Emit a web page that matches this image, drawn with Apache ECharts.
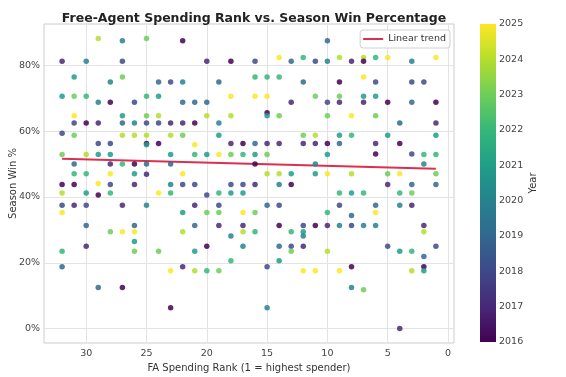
<!DOCTYPE html>
<html>
<head>
<meta charset="utf-8">
<script src="https://cdn.jsdelivr.net/npm/echarts@6/dist/echarts.min.js"></script>
<style>
  html, body { margin: 0; padding: 0; background: #fff; }
  #chart { width: 566px; height: 377px; }
</style>
</head>
<body>
<div id="chart"></div>
<script>
// FA spending rank (1 = highest spender), one entry per team-season
var rank = [
    32,32,32,32,32,32,32,32,32,32,
    31,31,31,31,31,31,31,31,31,
    30,30,30,30,30,30,30,30,30,
    29,29,29,29,29,29,29,29,
    28,28,28,28,28,28,28,28,28,
    27,27,27,27,27,27,27,27,27,27,
    26,26,26,26,26,26,26,26,26,26,
    25,25,25,25,25,25,25,25,25,25,
    24,24,24,24,24,24,24,
    23,23,23,23,23,23,23,23,23,
    22,22,22,22,22,22,22,22,22,22,
    21,21,21,21,21,21,21,21,21,
    20,20,20,20,20,20,20,20,
    19,19,19,19,19,19,19,19,19,
    18,18,18,18,18,18,18,18,18,
    17,17,17,17,17,17,17,17,
    16,16,16,16,16,16,16,16,16,
    15,15,15,15,15,15,15,15,15,15,
    14,14,14,14,14,14,14,14,14,14,
    13,13,13,13,13,13,13,
    12,12,12,12,12,12,12,12,12,
    11,11,11,11,11,11,11,11,
    10,10,10,10,10,10,10,10,10,10,
    9,9,9,9,9,9,9,9,9,9,
    8,8,8,8,8,8,8,8,8,
    7,7,7,7,7,7,7,7,
    6,6,6,6,6,6,6,6,6,
    5,5,5,5,5,5,
    4,4,4,4,4,4,4,
    3,3,3,3,3,3,3,3,3,
    2,2,2,2,2,2,2,2,
    1,1,1,1,1,1,1,1
];
var winPct = [
    81.3,70.6,59.4,52.9,43.8,41.2,37.5,35.3,23.5,18.8,
    76.5,70.6,64.7,62.5,58.8,50.0,47.1,43.8,37.5,
    81.3,70.6,62.5,52.9,47.1,41.2,37.5,31.3,25.0,
    88.2,68.8,62.5,56.3,52.9,44.1,40.6,12.5,
    75.0,68.8,56.3,52.9,50.0,47.1,43.8,41.2,29.4,
    87.5,81.3,76.5,64.7,62.5,58.8,50.0,37.5,29.4,12.5,
    68.8,62.5,58.8,50.0,47.1,43.8,31.3,29.4,26.5,23.5,
    88.2,70.6,64.7,62.5,58.8,56.3,55.9,50.0,46.9,37.5,
    75.0,70.6,64.7,62.5,56.3,41.2,23.5,
    75.0,62.5,58.8,52.9,50.0,43.8,41.2,17.6,6.3,
    87.5,75.0,68.8,62.5,58.8,47.1,43.8,35.3,29.4,18.8,
    68.8,62.5,55.9,52.9,43.8,37.5,31.3,23.5,17.6,
    81.3,68.8,64.7,52.9,40.6,35.3,25.0,17.6,
    75.0,62.5,58.8,52.9,41.2,37.5,35.3,31.3,17.6,
    81.3,70.6,64.7,56.3,52.9,43.8,41.2,28.1,20.6,
    56.3,52.9,43.8,41.2,35.3,31.3,29.4,25.0,
    81.3,76.5,70.6,56.3,52.9,50.0,43.8,35.3,29.4,
    76.5,70.6,65.6,64.7,56.3,52.9,47.1,37.5,18.8,6.3,
    82.4,76.5,64.7,56.3,47.1,43.8,37.5,31.3,25.0,20.6,
    81.3,68.8,47.1,43.8,29.4,25.0,23.5,
    82.4,75.0,58.8,56.3,31.3,29.4,28.1,25.0,17.6,
    81.3,70.6,58.8,56.3,50.0,47.1,31.3,17.6,
    87.5,81.3,68.8,64.7,56.3,52.9,47.1,35.3,31.3,23.5,
    82.4,75.0,70.6,68.8,58.8,56.3,41.2,37.5,31.3,17.6,
    81.3,64.7,58.8,47.1,41.2,34.4,31.3,18.8,12.5,
    82.4,81.3,76.5,70.6,68.8,41.2,31.3,11.8,
    82.4,75.0,70.6,64.7,56.3,53.1,37.5,35.3,31.3,
    82.4,68.8,58.8,47.1,43.8,25.0,
    62.5,56.3,47.1,41.2,37.5,23.5,0.0,
    81.3,75.0,68.8,53.1,43.8,41.2,37.5,23.5,17.6,
    75.0,52.9,50.0,31.3,29.4,21.9,18.8,17.6,
    82.4,68.8,62.5,58.8,52.9,47.1,43.8,25.0
];
var season = [
    2017,2021,2018,2023,2016,2024,2018,2025,2022,2019,
    2021,2023,2025,2018,2023,2019,2022,2016,2017,
    2020,2022,2016,2024,2022,2021,2018,2019,2017,
    2024,2020,2017,2018,2021,2025,2016,2019,
    2020,2016,2018,2021,2017,2025,2018,2022,2023,
    2020,2018,2023,2021,2019,2024,2022,2017,2025,2016,
    2018,2020,2024,2016,2021,2017,2019,2025,2021,2023,
    2023,2022,2023,2018,2024,2016,2021,2019,2017,2020,
    2019,2021,2024,2018,2016,2025,2023,
    2018,2017,2024,2021,2019,2020,2022,2025,2016,
    2016,2020,2019,2017,2023,2025,2018,2021,2024,2017,
    2019,2016,2025,2022,2018,2017,2019,2021,2024,
    2017,2019,2024,2021,2018,2023,2016,2022,
    2019,2020,2021,2025,2022,2018,2023,2017,2023,
    2016,2025,2024,2017,2023,2018,2021,2020,2022,
    2016,2022,2018,2021,2025,2017,2024,2020,
    2018,2022,2025,2019,2021,2016,2017,2023,2022,
    2022,2025,2016,2021,2017,2023,2024,2019,2018,2020,
    2025,2022,2023,2017,2024,2020,2018,2016,2019,2021,
    2019,2017,2021,2016,2022,2018,2023,
    2022,2019,2023,2017,2018,2021,2020,2017,2025,
    2018,2023,2024,2017,2020,2021,2016,2025,
    2019,2020,2018,2023,2016,2021,2025,2022,2017,2024,
    2024,2016,2023,2017,2021,2019,2022,2018,2020,2025,
    2017,2025,2022,2024,2021,2019,2018,2016,2020,
    2024,2016,2025,2021,2017,2022,2020,2023,
    2022,2018,2021,2023,2017,2016,2019,2025,2020,
    2025,2016,2021,2023,2017,2018,
    2019,2016,2025,2022,2020,2021,2017,
    2020,2018,2019,2018,2019,2023,2017,2022,2024,
    2018,2022,2020,2017,2024,2019,2016,2021,
    2025,2016,2017,2021,2022,2023,2019,2018
];
// linear trend end points
var trendRank = [32, 1];
var trendWin = [51.6, 48.6];

var xTicks = [0, 5, 10, 15, 20, 25, 30];
var yTicks = [0, 20, 40, 60, 80];
var years = [2016, 2025];

var viridis = ['#440154', '#482878', '#3e4989', '#31688e', '#26828e',
               '#1f9e89', '#35b779', '#6ece58', '#b5de2b', '#fde725'];

var points = [];
for (var i = 0; i < rank.length; i++) {
    points.push([rank[i], winPct[i], season[i]]);
}
var trend = [];
for (var j = 0; j < trendRank.length; j++) {
    trend.push([trendRank[j], trendWin[j]]);
}

var font = 'DejaVu Sans';
var gradStops = viridis.map(function (c, k) {
    return { offset: k / (viridis.length - 1), color: c };
});

var chart = echarts.init(document.getElementById('chart'), null, { renderer: 'canvas' });
var option = {
    animation: false,
    backgroundColor: '#fff',
    textStyle: { fontFamily: font },
    title: {
        text: 'Free-Agent Spending Rank vs. Season Win Percentage',
        left: 249, top: 7, textAlign: 'center',
        textStyle: { fontFamily: font, fontSize: 12.5, fontWeight: 'bold', color: '#222' }
    },
    legend: {
        data: [{ name: 'Linear trend', icon: 'rect' }],
        right: 116, top: 30,
        itemWidth: 20, itemHeight: 2, itemGap: 6,
        padding: [4, 4, 4, 3],
        borderColor: '#d0d0d0', borderWidth: 1, borderRadius: 3,
        backgroundColor: 'rgba(255,255,255,0.85)',
        textStyle: { fontFamily: font, fontSize: 9.5, color: '#333' }
    },
    grid: [
        { left: 44, right: 112, top: 24, bottom: 34, outerBoundsMode: 'none', containLabel: false,
          show: true, borderColor: '#cccccc', borderWidth: 1, backgroundColor: '#fff' },
        { left: 480, width: 16, top: 24, height: 318, outerBoundsMode: 'none', containLabel: false,
          show: true, borderWidth: 0,
          backgroundColor: new echarts.graphic.LinearGradient(0, 1, 0, 0, gradStops) }
    ],
    xAxis: [
        {
            type: 'value', gridIndex: 0, min: -0.5, max: 33.5, inverse: true,
            name: 'FA Spending Rank (1 = highest spender)',
            nameLocation: 'middle', nameGap: 20,
            nameTextStyle: { fontFamily: font, fontSize: 10, color: '#333' },
            axisLine: { show: false },
            axisTick: { show: false, customValues: xTicks },
            axisLabel: { customValues: xTicks, fontSize: 9.5, color: '#444', margin: 6 },
            splitLine: { show: true, lineStyle: { color: '#e3e3e3', width: 1 } }
        },
        { type: 'value', gridIndex: 1, show: false, min: 0, max: 1 }
    ],
    yAxis: [
        {
            type: 'value', gridIndex: 0, min: -4.4, max: 92.6,
            name: 'Season Win %', nameLocation: 'middle', nameGap: 26, nameRotate: 90,
            nameMoveOverlap: false,
            nameTextStyle: { fontFamily: font, fontSize: 10, color: '#333' },
            axisLine: { show: false },
            axisTick: { show: false, customValues: yTicks },
            axisLabel: { customValues: yTicks, fontSize: 9.5, color: '#444', margin: 4,
                         formatter: function (v) { return Math.round(v) + '%'; } },
            splitLine: { show: true, lineStyle: { color: '#e3e3e3', width: 1 } }
        },
        {
            type: 'value', gridIndex: 1, position: 'right', min: years[0], max: years[1], interval: 1,
            name: 'Year', nameLocation: 'middle', nameGap: 32, nameRotate: 90,
            nameMoveOverlap: false,
            nameTextStyle: { fontFamily: font, fontSize: 10, color: '#333' },
            axisLine: { show: false }, axisTick: { show: false },
            axisLabel: { fontSize: 9.5, color: '#444', margin: 3,
                         formatter: function (v) { return String(v); } },
            splitLine: { show: false }
        }
    ],
    visualMap: {
        type: 'continuous', show: false, min: years[0], max: years[1],
        dimension: 2, seriesIndex: 0,
        inRange: { color: viridis }
    },
    series: [
        {
            type: 'scatter', xAxisIndex: 0, yAxisIndex: 0,
            data: points, symbolSize: 5.5, z: 3,
            itemStyle: { opacity: 0.85 }
        },
        {
            name: 'Linear trend', type: 'line', xAxisIndex: 0, yAxisIndex: 0,
            data: trend, symbol: 'none', z: 2,
            lineStyle: { color: '#dc2f4f', width: 2 },
            itemStyle: { color: '#dc2f4f' }
        },
        { type: 'scatter', xAxisIndex: 1, yAxisIndex: 1, data: [] }
    ]
};
chart.setOption(option);
</script>
</body>
</html>
